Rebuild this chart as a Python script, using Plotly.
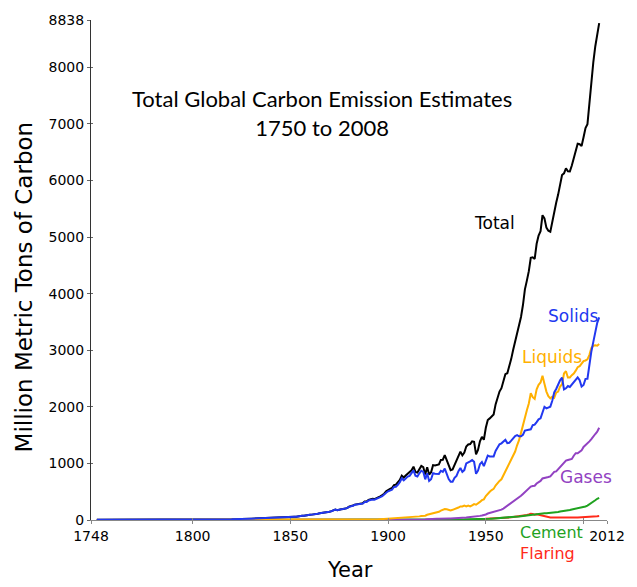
import plotly.graph_objects as go

# Global carbon emissions from fossil fuels and cement, million metric tons of carbon
years = [1751, 1760, 1770, 1780, 1790, 1800, 1810, 1820, 1830, 1840] + list(range(1850, 2009))

total = (
    [3, 3, 4, 5, 6, 8, 10, 14, 24, 33]
    + [54, 54, 57, 59, 69, 71, 76, 77, 78, 83]
    + [91, 95, 97, 104, 112, 119, 122, 130, 135, 142]
    + [147, 156, 173, 184, 174, 188, 191, 194, 196, 210]
    + [236, 243, 256, 272, 275, 277, 281, 295, 327, 327]
    + [356, 372, 374, 370, 383, 406, 419, 440, 465, 507]
    + [534, 552, 566, 617, 624, 663, 707, 784, 750, 785]
    + [819, 836, 879, 943, 850, 838, 901, 955, 936, 806]
    + [932, 803, 845, 970, 963, 975, 983, 1062, 1065, 1145]
    + [1053, 940, 881, 893, 973, 1027, 1130, 1209, 1142, 1192]
    + [1299, 1334, 1342, 1391, 1383, 1160, 1238, 1392, 1469, 1419]
    + [1630, 1768, 1796, 1841, 1865, 2043, 2178, 2270, 2330, 2462]
    + [2577, 2594, 2700, 2848, 3008, 3145, 3305, 3411, 3588, 3800]
    + [4076, 4231, 4399, 4635, 4644, 4615, 4883, 5029, 5105, 5387]
    + [5332, 5168, 5113, 5094, 5280, 5439, 5607, 5752, 5965, 6097]
    + [6127, 6217, 6164, 6162, 6266, 6398, 6542, 6651, 6643, 6610]
    + [6765, 6927, 6996, 7416, 7807, 8093, 8370, 8566, 8783]
)

solids = (
    [3, 3, 4, 5, 6, 8, 10, 14, 24, 33]
    + [54, 54, 57, 59, 69, 71, 76, 77, 78, 83]
    + [91, 95, 97, 104, 112, 119, 122, 130, 135, 142]
    + [146, 155, 172, 183, 173, 187, 190, 193, 195, 209]
    + [233, 240, 252, 268, 271, 271, 275, 289, 320, 319]
    + [346, 361, 362, 358, 370, 391, 403, 422, 445, 483]
    + [508, 524, 535, 584, 587, 623, 668, 738, 701, 733]
    + [767, 781, 820, 877, 784, 770, 826, 871, 852, 719]
    + [825, 690, 720, 827, 818, 815, 815, 871, 852, 908]
    + [823, 724, 678, 678, 745, 781, 864, 919, 851, 882]
    + [1000, 1015, 1037, 1062, 1030, 817, 872, 987, 1026, 953]
    + [1069, 1139, 1124, 1129, 1124, 1222, 1293, 1337, 1355, 1394]
    + [1419, 1360, 1366, 1403, 1449, 1485, 1500, 1479, 1480, 1507]
    + [1580, 1589, 1594, 1603, 1676, 1685, 1731, 1780, 1797, 1919]
    + [2001, 1974, 1992, 2003, 2107, 2254, 2316, 2394, 2469, 2516]
    + [2309, 2328, 2368, 2352, 2396, 2435, 2477, 2520, 2470, 2359]
    + [2387, 2495, 2497, 2775, 2979, 3148, 3346, 3485, 3583]
)

liquids = (
    [0] * 10
    + [0] * 10
    + [0] * 10
    + [1, 1, 1, 1, 1, 1, 1, 1, 1, 1]
    + [3, 3, 4, 4, 4, 5, 5, 5, 6, 7]
    + [9, 10, 11, 11, 12, 13, 14, 16, 18, 21]
    + [23, 25, 27, 29, 33, 35, 34, 40, 43, 45]
    + [44, 47, 50, 56, 56, 58, 64, 72, 72, 76]
    + [93, 100, 110, 125, 125, 138, 145, 165, 175, 195]
    + [190, 180, 170, 180, 190, 205, 220, 240, 240, 255]
    + [240, 255, 240, 260, 280, 270, 290, 320, 350, 365]
    + [423, 470, 500, 530, 550, 610, 660, 690, 720, 790]
    + [849, 905, 980, 1060, 1140, 1210, 1320, 1410, 1540, 1680]
    + [1838, 1940, 2060, 2240, 2170, 2140, 2310, 2390, 2430, 2550]
    + [2410, 2270, 2190, 2150, 2180, 2160, 2250, 2270, 2360, 2400]
    + [2590, 2630, 2520, 2520, 2560, 2590, 2640, 2700, 2720, 2760]
    + [2810, 2820, 2840, 2920, 3040, 3080, 3090, 3080, 3110]
)

gases = (
    [0] * 10
    + [0] * 30
    + [0, 0, 0, 0, 0, 1, 1, 1, 1, 1]
    + [1, 1, 1, 1, 1, 2, 2, 2, 2, 3]
    + [3, 3, 4, 4, 4, 5, 5, 6, 6, 7]
    + [8, 8, 9, 10, 10, 10, 11, 12, 12, 11]
    + [14, 13, 15, 18, 20, 22, 23, 26, 28, 32]
    + [30, 27, 25, 26, 29, 31, 35, 38, 39, 42]
    + [45, 50, 52, 57, 62, 63, 65, 73, 80, 86]
    + [97, 115, 124, 131, 138, 150, 161, 174, 183, 202]
    + [227, 242, 262, 287, 313, 337, 364, 392, 427, 460]
    + [493, 530, 560, 590, 600, 605, 645, 665, 690, 735]
    + [739, 750, 760, 770, 820, 850, 860, 900, 940, 980]
    + [1026, 1050, 1060, 1070, 1080, 1136, 1180, 1180, 1200, 1230]
    + [1292, 1320, 1350, 1390, 1430, 1483, 1520, 1560, 1630]
)

cement = (
    [0] * 10
    + [0] * 70
    + [0, 0, 0, 0, 0, 0, 0, 0, 10, 10]
    + [10, 9, 8, 9, 9, 10, 11, 12, 12, 13]
    + [14, 14, 13, 12, 11, 10, 11, 12, 13, 15]
    + [18, 20, 22, 24, 26, 30, 32, 34, 37, 40]
    + [43, 45, 48, 51, 55, 58, 61, 64, 68, 73]
    + [78, 82, 87, 92, 93, 90, 97, 102, 108, 113]
    + [120, 119, 121, 125, 128, 131, 137, 143, 150, 154]
    + [157, 165, 172, 177, 187, 194, 201, 206, 207, 213]
    + [226, 240, 255, 275, 298, 320, 350, 375, 390]
)

flaring = (
    [0] * 10
    + [0] * 100
    + [23, 24, 26, 27, 27, 31, 32, 35, 35, 36]
    + [39, 42, 44, 47, 51, 55, 60, 66, 73, 80]
    + [87, 90, 98, 110, 105, 95, 100, 92, 80, 70]
    + [62, 55, 50, 46, 45, 44, 44, 45, 46, 47]
    + [45, 44, 44, 43, 43, 43, 44, 45, 46, 48]
    + [50, 52, 54, 56, 60, 62, 64, 66, 70]
)

x_ticks = [1748, 1800, 1850, 1900, 1950, 2000, 2012]
x_tick_text = ["1748", "1800", "1850", "1900", "1950", "", "2012"]
y_ticks = [0, 1000, 2000, 3000, 4000, 5000, 6000, 7000, 8000, 8838]
y_tick_text = ["0", "1000", "2000", "3000", "4000", "5000", "6000", "7000", "8000", "8838"]

series = [
    ("Total", total, "#000000"),
    ("Flaring", flaring, "#FF2A1A"),
    ("Cement", cement, "#1FA21F"),
    ("Gases", gases, "#9242C2"),
    ("Liquids", liquids, "#FFB000"),
    ("Solids", solids, "#2238F0"),
]

fig = go.Figure()
for name, vals, color in series:
    fig.add_trace(go.Scatter(x=years, y=vals, mode="lines", name=name,
                             line=dict(color=color, width=2), hoverinfo="x+y"))

label_font = "DejaVu Sans"
# series labels next to their curves (data coordinates)
labels = [
    ("Total", 1954.5, 5253, "#000000"),
    ("Solids", 1994.5, 3613, "#2238F0"),
    ("Liquids", 1984.0, 2880, "#FFB000"),
    ("Gases", 2001.0, 768, "#9242C2"),
]
for text, lx, ly, color in labels:
    fig.add_annotation(x=lx, y=ly, xref="x", yref="y", text=text, showarrow=False,
                       xanchor="center", yanchor="middle",
                       font=dict(family=label_font, size=17, color=color))

# labels for the two smallest series, stacked below the axis
for text, ly, color in [("Cement", -0.025, "#1FA21F"), ("Flaring", -0.067, "#FF2A1A")]:
    fig.add_annotation(x=0.827, y=ly, xref="paper", yref="paper", text=text,
                       showarrow=False, xanchor="left", yanchor="middle",
                       font=dict(family=label_font, size=16, color=color))

# chart title
fig.add_annotation(x=0.448, y=0.814, xref="paper", yref="paper",
                   text="Total Global Carbon Emission Estimates<br>1750 to 2008",
                   showarrow=False, xanchor="center", yanchor="middle", align="center",
                   font=dict(family="Lato", size=22, color="#000000"))
# axis titles
fig.add_annotation(x=-0.128, y=0.467, xref="paper", yref="paper",
                   text="Million Metric Tons of Carbon", textangle=-90,
                   showarrow=False, xanchor="center", yanchor="middle",
                   font=dict(family=label_font, size=23, color="#000000"))
fig.add_annotation(x=0.501, y=-0.099, xref="paper", yref="paper",
                   text="Year", showarrow=False, xanchor="center", yanchor="middle",
                   font=dict(family=label_font, size=21, color="#000000"))

fig.update_layout(
    width=637, height=587,
    margin=dict(l=91, r=19, t=14, b=67),
    paper_bgcolor="white", plot_bgcolor="white",
    showlegend=False,
    font=dict(family=label_font, size=14, color="#000000"),
    xaxis=dict(range=[1748, 2012], tickmode="array", tickvals=x_ticks, ticktext=x_tick_text,
               showgrid=False, zeroline=False, showline=True, linecolor="#888888", linewidth=1,
               ticks="outside", ticklen=3, tickcolor="#888888", tickfont=dict(size=14)),
    yaxis=dict(range=[0, 8838], tickmode="array", tickvals=y_ticks, ticktext=y_tick_text,
               showgrid=False, zeroline=False, showline=True, linecolor="#333333", linewidth=1,
               ticks="outside", ticklen=3, tickcolor="#666666", tickfont=dict(size=14)),
    xaxis2=dict(range=[1748, 2012], overlaying="x", side="bottom", tickmode="array",
                tickvals=x_ticks, showticklabels=False, showgrid=False, zeroline=False,
                ticks="inside", ticklen=2, tickcolor="#888888", anchor="y"),
    yaxis2=dict(range=[0, 8838], overlaying="y", side="left", tickmode="array",
                tickvals=y_ticks, showticklabels=False, showgrid=False, zeroline=False,
                ticks="inside", ticklen=2, tickcolor="#666666", anchor="x"),
)
# invisible trace to bring the crossing tick axes into view
fig.add_trace(go.Scatter(x=[1748], y=[0], xaxis="x2", yaxis="y2", mode="markers",
                         marker=dict(opacity=0), hoverinfo="skip", showlegend=False))

fig.write_html("out.html")
